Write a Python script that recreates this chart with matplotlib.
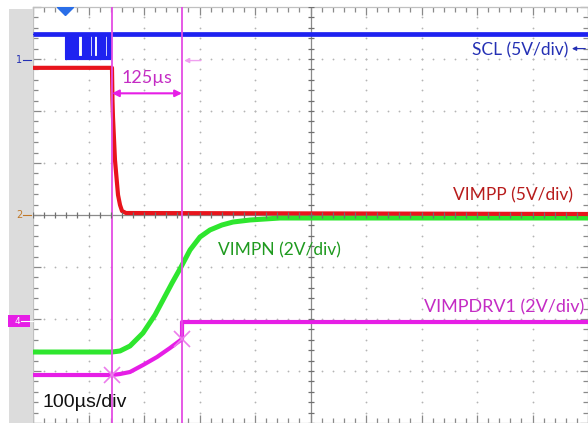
import matplotlib
matplotlib.use("Agg")
import matplotlib.pyplot as plt
from matplotlib.patches import Rectangle
import numpy as np

# ---- data (time in microseconds, amplitude in screen divisions) ----
scl_high = 3.48
scl_low = 3.02
scl_pulse_starts = [58, 61.5, 65, 68.5, 72, 75.5, 79,
                    88, 91.5, 95, 98.5, 102, 105.5, 109,
                    115, 118.5, 122, 125.5, 129, 132.5, 136, 139]
scl_pulse_width = 1.6
scl_burst = [58, 141]

vimpp_t = [0, 142.3, 143.2, 144.1, 147.7, 153.2, 156.8, 160.4, 167.6, 1000]
vimpp_v = [2.83, 2.83, 2.21, 1.885, 1.058, 0.385, 0.192, 0.077, 0.038, 0.019]

vimpn_t = [0, 142.3, 156.8, 174.8, 198.2, 219.8, 234.2, 250.5, 266.7, 282.9,
           300.9, 318.9, 340.5, 360.4, 391.0, 445.0, 1000]
vimpn_v = [-2.635, -2.635, -2.615, -2.519, -2.269, -1.923, -1.635, -1.308, -1.0,
           -0.673, -0.423, -0.288, -0.192, -0.135, -0.096, -0.058, -0.058]

vimpdrv_t = [0, 142.3, 156.8, 174.8, 198.2, 223.4, 246.8, 268.5, 268.5, 1000]
vimpdrv_v = [-3.077, -3.077, -3.058, -3.019, -2.885, -2.731, -2.558, -2.385, -2.058, -2.058]

cursor_t = [142.3, 268.5]
cursor_x_marks_t = [142.3, 268.5]
cursor_x_marks_v = [-3.077, -2.385]
delta_label = "125µs"

labels = ["SCL (5V/div)", "VIMPP (5V/div)", "VIMPN (2V/div)", "VIMPDRV1 (2V/div)"]
timebase_label = "100µs/div"

# ---- colours ----
c_blue = "#1e22f0"
c_blue_txt = "#2430b4"
c_red = "#e8141c"
c_red_txt = "#b81c1c"
c_green = "#2ee62e"
c_green_txt = "#1f9a1f"
c_mag = "#e61ee6"
c_mag_txt = "#c42cc4"
c_cursor = "#e44ce4"
c_grid = "#b4b4b4"

# ---- build SCL step waveform from the pulse list ----
scl_t = [0.0]
scl_v = [scl_high]
for s in scl_pulse_starts:
    scl_t += [s, s, s + scl_pulse_width, s + scl_pulse_width]
    scl_v += [scl_high, scl_low, scl_low, scl_high]
scl_t.append(1000.0)
scl_v.append(scl_high)

fig = plt.figure(figsize=(5.88, 4.23), dpi=100)
fig.patch.set_facecolor("white")
W, H = 588.0, 423.0
ax = fig.add_axes([33 / W, 0, 555 / W, 416 / H])
ax.set_xlim(0, 1000)
ax.set_ylim(-4, 4)

# side strip
fig.patches.append(Rectangle((9 / W, 0), 24 / W, 414 / H, transform=fig.transFigure,
                             facecolor="#dcdcdc", edgecolor="none", zorder=0))

# dotted grid
xs_major = np.arange(0, 1001, 100)
ys_major = np.arange(-4, 4.01, 1)
xs_minor = np.arange(0, 1001, 20)
ys_minor = np.arange(-4, 4.01, 0.2)
for x in xs_major[1:-1]:
    if x == 500:
        continue
    ax.plot([x] * len(ys_minor), ys_minor, ls="none", marker="o", ms=1.3,
            mfc=c_grid, mec="none", zorder=1)
for y in ys_major[1:-1]:
    if y == 0:
        continue
    ax.plot(xs_minor, [y] * len(xs_minor), ls="none", marker="o", ms=1.3,
            mfc=c_grid, mec="none", zorder=1)

# centre cross with ticks
ax.axhline(0, color="#8a8a8a", lw=0.9, zorder=1)
ax.axvline(500, color="#8a8a8a", lw=0.9, zorder=1)
ax.plot(xs_minor, [0] * len(xs_minor), ls="none", marker="|", ms=5, mew=0.9,
        color="#707070", zorder=6)
ax.plot([500] * len(ys_minor), ys_minor, ls="none", marker="_", ms=5, mew=0.9,
        color="#707070", zorder=6)

# frame ticks
ax.set_xticks(xs_major)
ax.set_yticks(ys_major)
ax.set_xticks(xs_minor, minor=True)
ax.set_yticks(ys_minor, minor=True)
ax.tick_params(which="both", direction="in", top=True, right=True, labelbottom=False,
               labelleft=False, color="#8a8a8a", width=0.9)
ax.tick_params(which="major", length=6)
ax.tick_params(which="minor", length=3.5)
for sp in ax.spines.values():
    sp.set_color("#c0c0c0")
    sp.set_linewidth(0.9)

# traces
ax.plot(scl_t, scl_v, color=c_blue, lw=0.8, zorder=3)
ax.hlines(scl_high, 0, 1000, color=c_blue, lw=3.4, zorder=3)
ax.hlines(scl_low, scl_burst[0], scl_burst[1], color=c_blue, lw=3.0, zorder=3)
ax.plot(vimpn_t, vimpn_v, color=c_green, lw=3.6, zorder=3)
ax.plot(vimpp_t, vimpp_v, color=c_red, lw=3.0, zorder=4)
ax.plot(vimpdrv_t, vimpdrv_v, color=c_mag, lw=3.0, zorder=4)

# cursors
for ct in cursor_t:
    ax.axvline(ct, color=c_cursor, lw=1.3, zorder=5)
ax.plot(cursor_x_marks_t, cursor_x_marks_v, ls="none", marker="x", ms=12, mew=1.2,
        color="#ec7cec", zorder=6)
ax.annotate("", xy=(cursor_t[0], 2.34), xytext=(cursor_t[1], 2.34),
            arrowprops=dict(arrowstyle="<|-|>", color=c_mag, lw=1.5,
                            mutation_scale=10, shrinkA=0, shrinkB=0), zorder=6)
ax.text((cursor_t[0] + cursor_t[1]) / 2, 2.63, delta_label, color=c_mag_txt,
        fontsize=13, family="Lato", ha="center", va="center", zorder=7)
ax.annotate("", xy=(cursor_t[1] + 4, 2.97), xytext=(cursor_t[1] + 34, 2.97),
            arrowprops=dict(arrowstyle="-|>", color="#f0a0f0", lw=1.0,
                            mutation_scale=7, shrinkA=0, shrinkB=0), zorder=6)

# trigger marker on top (half visible)
ax.plot([58], [4.0], ls="none", marker="D", ms=8, color="#2a6ee8", clip_on=True, zorder=7)

# labels
ax.text(964, 3.17, labels[0], color=c_blue_txt, fontsize=12.5, family="Lato",
        ha="right", va="center", zorder=7)
ax.annotate("", xy=(971, 3.2), xytext=(995, 3.2),
            arrowprops=dict(arrowstyle="-|>", color=c_blue_txt, lw=0.9,
                            mutation_scale=6, shrinkA=0, shrinkB=0), zorder=7)
ax.text(973, 0.385, labels[1], color=c_red_txt, fontsize=12.5, family="Lato",
        ha="right", va="center", zorder=7)
ax.text(333, -0.673, labels[2], color=c_green_txt, fontsize=12.5, family="Lato",
        ha="left", va="center", zorder=7)
ax.text(994, -1.77, labels[3], color=c_mag_txt, fontsize=13, family="Lato",
        ha="right", va="center", zorder=7)
ax.text(18, -3.6, timebase_label, color="#111111", fontsize=14,
        family="Liberation Sans", ha="left", va="center", zorder=7)

# channel ground markers on side strip
def px(xp):
    return xp / W

def py(yp):
    return 1 - yp / H

fig.text(px(19), py(60), "1", color=c_blue_txt, fontsize=7, ha="center", va="center")
fig.add_artist(plt.Line2D([px(23), px(31)], [py(60), py(60)], color=c_blue_txt, lw=0.8))
fig.text(px(19), py(215), "2", color="#c07828", fontsize=7, ha="center", va="center")
fig.add_artist(plt.Line2D([px(23), px(31)], [py(215), py(215)], color="#c07828", lw=0.8))
fig.patches.append(Rectangle((px(8), py(327)), 22 / W, 12 / H, transform=fig.transFigure,
                             facecolor=c_mag, edgecolor="none", zorder=2))
fig.text(px(17), py(321), "4", color="white", fontsize=6.5, ha="center", va="center", zorder=3)
fig.add_artist(plt.Line2D([px(21), px(33)], [py(321), py(321)], color="white", lw=0.8, zorder=3))

fig.savefig("out.png", dpi=100)
